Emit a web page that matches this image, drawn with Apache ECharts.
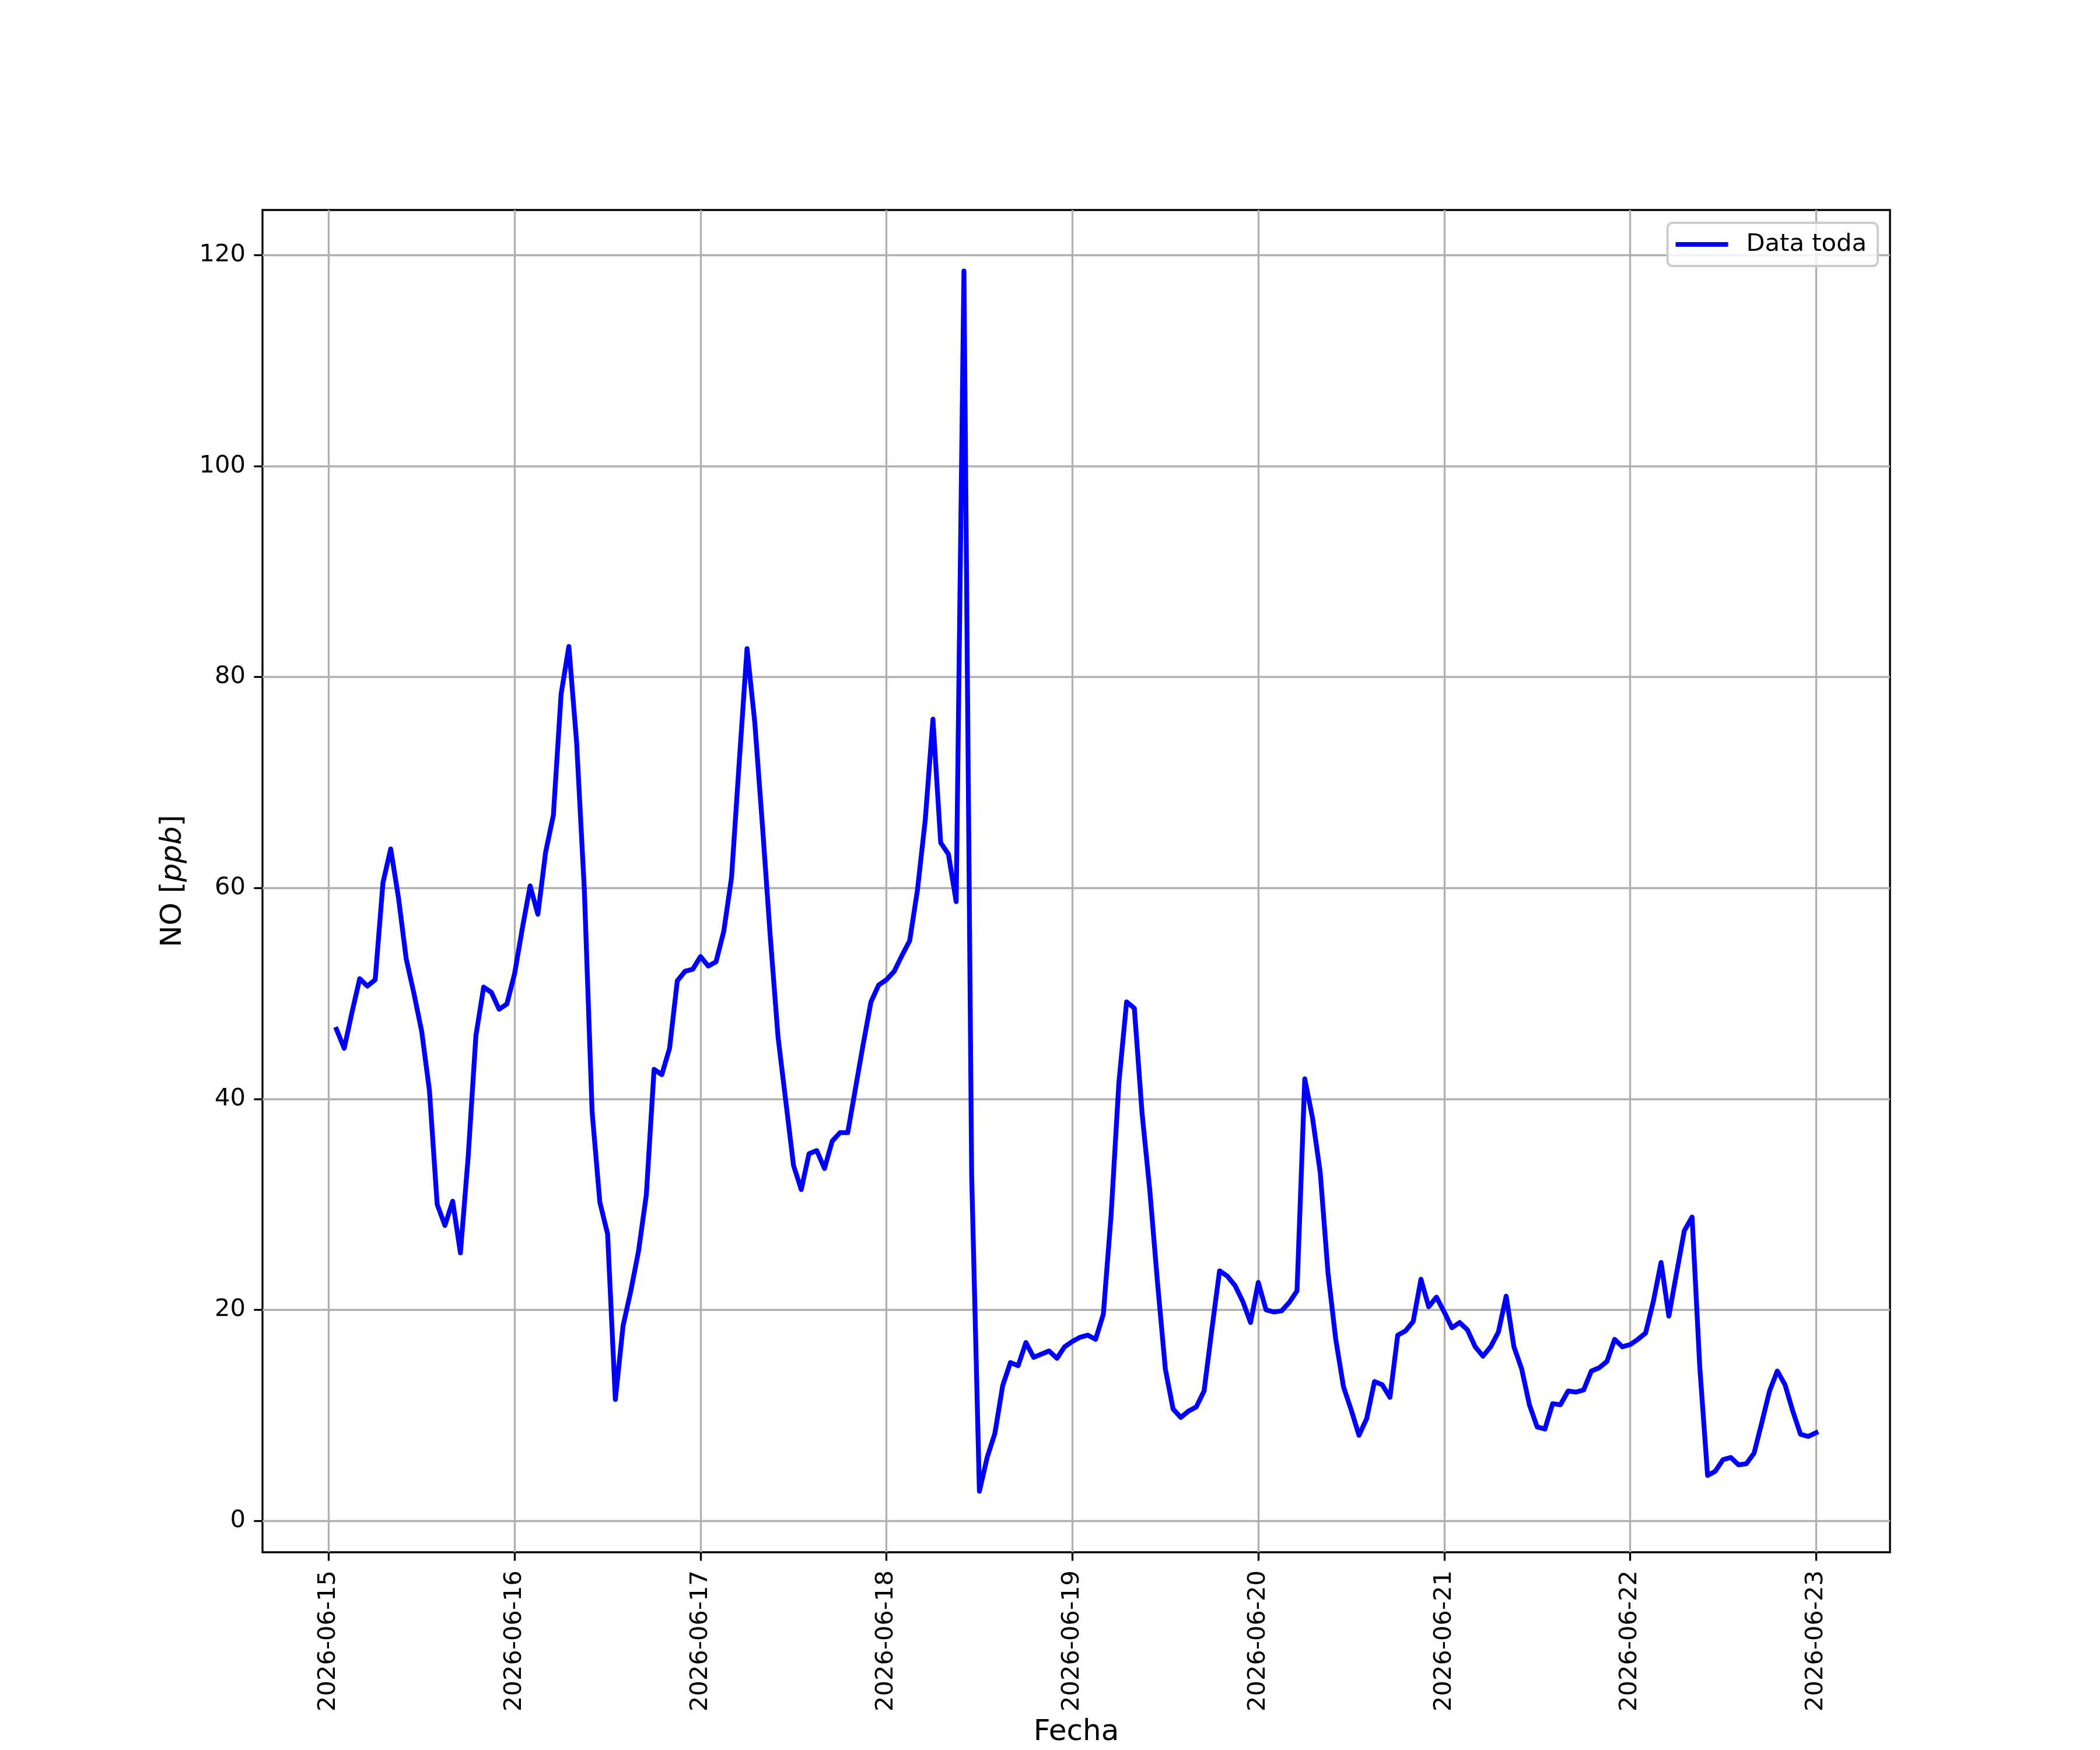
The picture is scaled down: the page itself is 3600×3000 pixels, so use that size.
<!DOCTYPE html>
<html>
<head>
<meta charset="utf-8">
<script src="https://cdn.jsdelivr.net/npm/echarts@6/dist/echarts.min.js"></script>
<style>
  html, body { margin: 0; padding: 0; background: #ffffff; }
  #chart { width: 3600px; height: 3000px; }
</style>
</head>
<body>
<div id="chart"></div>
<script>
// ---- data (hourly NO, ppb), first sample 2026-06-15 01:00 ----
const startTime = '2026-06-15T01:00:00Z';
const day15 = [46.6, 44.8, 48.2, 51.4, 50.7, 51.3, 60.5, 63.7, 59.1, 53.3, 50.0, 46.4, 40.8, 30.0, 28.0, 30.3, 25.4, 34.5, 46.0, 50.6, 50.1, 48.5, 49.0, 51.9];
const day16 = [56.2, 60.2, 57.5, 63.4, 66.9, 78.4, 82.9, 73.8, 59.8, 38.8, 30.2, 27.2, 11.5, 18.5, 21.8, 25.6, 30.9, 42.8, 42.3, 44.8, 51.2, 52.1, 52.3, 53.5];
const day17 = [52.6, 53.0, 55.9, 61.0, 72.0, 82.7, 75.7, 65.8, 55.4, 45.9, 39.8, 33.7, 31.4, 34.8, 35.1, 33.4, 36.0, 36.8, 36.8, 41.0, 45.2, 49.2, 50.8, 51.3];
const day18 = [52.1, 53.6, 55.0, 59.8, 66.4, 76.0, 64.3, 63.2, 58.7, 118.5, 32.7, 2.8, 6.0, 8.3, 12.8, 15.0, 14.7, 16.9, 15.5, 15.8, 16.1, 15.4, 16.5, 17.0];
const day19 = [17.4, 17.6, 17.2, 19.6, 29.0, 41.5, 49.2, 48.6, 38.6, 31.3, 22.5, 14.4, 10.6, 9.8, 10.4, 10.8, 12.3, 18.1, 23.7, 23.2, 22.3, 20.8, 18.8, 22.6];
const day20 = [20.0, 19.8, 19.9, 20.7, 21.8, 41.9, 38.2, 33.0, 23.5, 17.2, 12.7, 10.5, 8.1, 9.7, 13.2, 12.9, 11.7, 17.6, 18.0, 18.9, 22.9, 20.3, 21.2, 19.8];
const day21 = [18.3, 18.8, 18.1, 16.5, 15.6, 16.5, 17.9, 21.3, 16.5, 14.4, 11.0, 8.9, 8.7, 11.1, 11.0, 12.3, 12.2, 12.4, 14.2, 14.5, 15.1, 17.2, 16.5, 16.7];
const day22 = [17.2, 17.8, 20.8, 24.5, 19.4, 23.5, 27.5, 28.8, 14.5, 4.3, 4.7, 5.8, 6.0, 5.3, 5.4, 6.4, 9.3, 12.3, 14.2, 12.9, 10.4, 8.2, 8.0, 8.35];

const xTickLabels = ['2026-06-15', '2026-06-16', '2026-06-17', '2026-06-18', '2026-06-19', '2026-06-20', '2026-06-21', '2026-06-22', '2026-06-23'];
const yTickValues = [0, 20, 40, 60, 80, 100, 120];
const seriesName = 'Data toda';
const xAxisTitle = 'Fecha';

// ---- build ----
const noValues = [].concat(day15, day16, day17, day18, day19, day20, day21, day22);
const t0 = Date.parse(startTime);
const HOUR = 3600 * 1000;
const points = noValues.map((v, i) => [t0 + i * HOUR, v]);

const xs = points.map(p => p[0]);
const xMinD = Math.min(...xs), xMaxD = Math.max(...xs);
const xPad = (xMaxD - xMinD) * 0.05;
const yMinD = Math.min(...noValues), yMaxD = Math.max(...noValues);
const yPad = (yMaxD - yMinD) * 0.05;

const xTickValues = xTickLabels.map(d => Date.parse(d + 'T00:00:00Z'));

const FONT = 'DejaVu Sans';
const chart = echarts.init(document.getElementById('chart'), null, { renderer: 'canvas', devicePixelRatio: 1 });

chart.setOption({
  animation: false,
  backgroundColor: '#ffffff',
  textStyle: { fontFamily: FONT, color: '#000000' },
  grid: {
    left: 450, right: 360, top: 360, bottom: 330,
    show: true, borderColor: '#000000', borderWidth: 3.3, backgroundColor: 'transparent',
    containLabel: false
  },
  legend: {
    show: true,
    right: 381, top: 382,
    orient: 'vertical',
    padding: [16, 19, 16, 14],
    backgroundColor: 'rgba(255,255,255,0.8)',
    borderColor: '#cccccc', borderWidth: 4, borderRadius: 9,
    itemWidth: 90, itemHeight: 8,
    icon: 'rect',
    textStyle: { fontFamily: FONT, fontSize: 41.67, color: '#000000', padding: [0, 0, 0, 26] },
    data: [seriesName]
  },
  xAxis: {
    type: 'value',
    min: xMinD - xPad,
    max: xMaxD + xPad,
    name: xAxisTitle,
    nameLocation: 'middle',
    nameGap: 284,
    nameTextStyle: { fontFamily: FONT, fontSize: 50, color: '#000000' },
    axisLine: { show: false, onZero: false },
    axisTick: { show: true, inside: false, length: 14.6, lineStyle: { color: '#000000', width: 3.3 }, customValues: xTickValues },
    axisLabel: {
      show: true, rotate: 90, margin: 31, fontFamily: FONT, fontSize: 41.67, color: '#000000',
      customValues: xTickValues,
      formatter: v => new Date(v).toISOString().slice(0, 10),
      showMinLabel: true, showMaxLabel: true, hideOverlap: false
    },
    splitLine: { show: true, lineStyle: { color: '#b0b0b0', width: 3.3 } }
  },
  yAxis: {
    type: 'value',
    min: yMinD - yPad,
    max: yMaxD + yPad,
    name: 'NO [{i|ppb}]',
    nameLocation: 'middle',
    nameGap: 128,
    nameTextStyle: {
      fontFamily: FONT, fontSize: 50, color: '#000000',
      rich: { i: { fontFamily: FONT, fontStyle: 'italic', fontSize: 50, color: '#000000' } }
    },
    axisLine: { show: false, onZero: false },
    axisTick: { show: true, inside: false, length: 14.6, lineStyle: { color: '#000000', width: 3.3 }, customValues: yTickValues },
    axisLabel: {
      show: true, margin: 29, fontFamily: FONT, fontSize: 41.67, color: '#000000',
      customValues: yTickValues,
      formatter: v => String(Math.round(v)),
      showMinLabel: true, showMaxLabel: true
    },
    splitLine: { show: true, lineStyle: { color: '#b0b0b0', width: 3.3 } }
  },
  series: [{
    name: seriesName,
    type: 'line',
    data: points,
    showSymbol: false,
    symbol: 'none',
    smooth: false,
    lineStyle: { color: '#0000ff', width: 8.3, join: 'round', cap: 'square' },
    itemStyle: { color: '#0000ff' },
    z: 5
  }]
});
</script>
</body>
</html>
